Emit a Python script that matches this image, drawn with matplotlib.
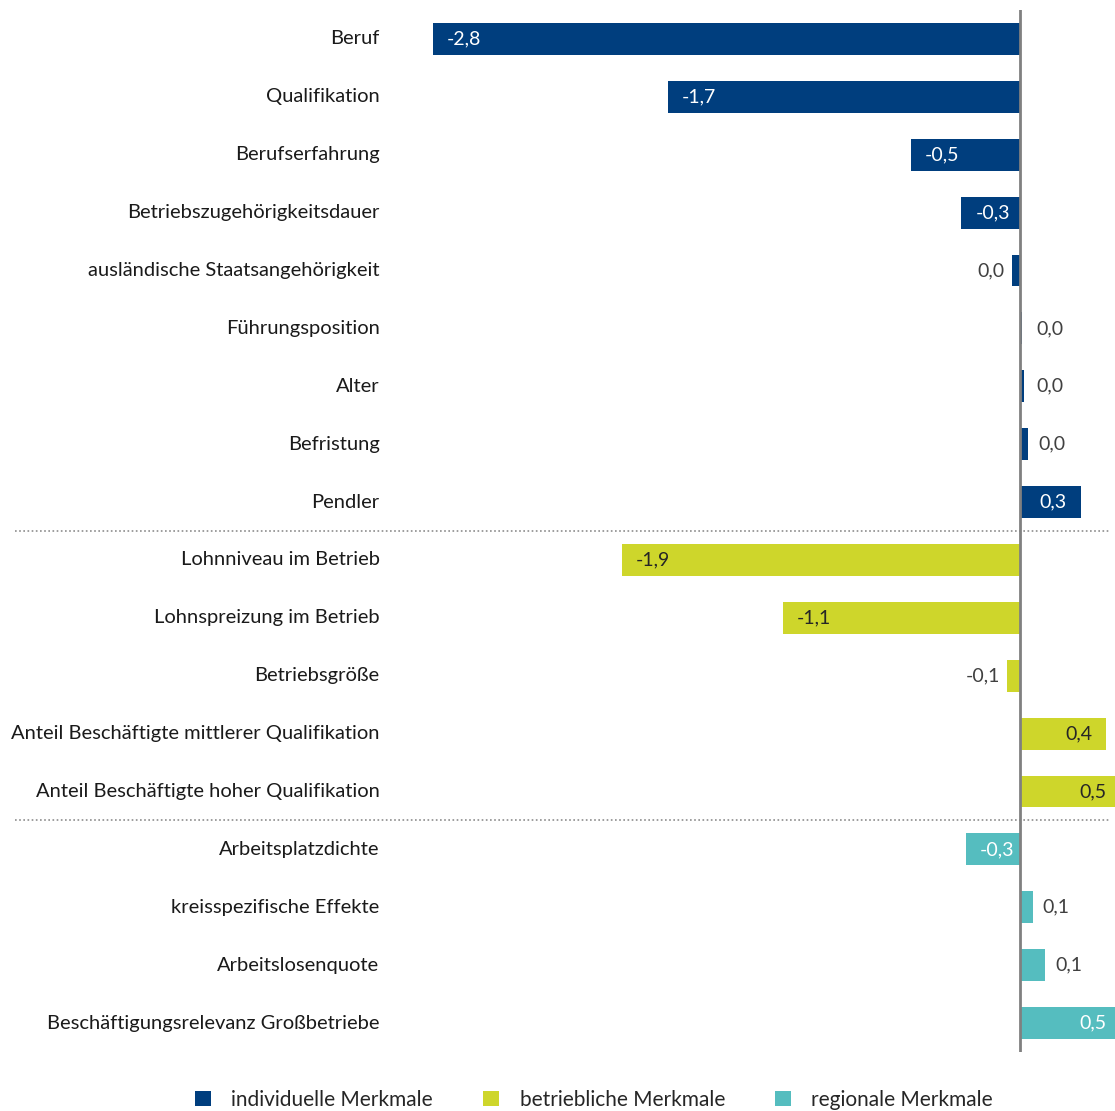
import matplotlib
matplotlib.use("Agg")
import matplotlib.pyplot as plt
from matplotlib.patches import Patch
from matplotlib.transforms import blended_transform_factory

plt.rcParams['font.family'] = ['Lato', 'DejaVu Sans']

# data
labels = ["Beruf", "Qualifikation", "Berufserfahrung", "Betriebszugehörigkeitsdauer",
          "ausländische Staatsangehörigkeit", "Führungsposition", "Alter", "Befristung",
          "Pendler",
          "Lohnniveau im Betrieb", "Lohnspreizung im Betrieb", "Betriebsgröße",
          "Anteil Beschäftigte mittlerer Qualifikation", "Anteil Beschäftigte hoher Qualifikation",
          "Arbeitsplatzdichte", "kreisspezifische Effekte", "Arbeitslosenquote",
          "Beschäftigungsrelevanz Großbetriebe"]
values = [-2.80, -1.68, -0.52, -0.28, -0.04, 0.01, 0.02, 0.04, 0.29,
          -1.90, -1.13, -0.06, 0.41, 0.48,
          -0.26, 0.06, 0.12, 0.48]
groups = [0] * 9 + [1] * 5 + [2] * 4
group_names = ["individuelle Merkmale", "betriebliche Merkmale", "regionale Merkmale"]

colors = ["#003E7E", "#CED62B", "#55BDBF"]
inside_text = ["white", "#262626", "white"]

W, H = 1115, 1111
fig = plt.figure(figsize=(W / 100, H / 100), dpi=100)
# zero line at x=1020px, ~209.6 px per unit
x0_px, ppu = 1020, 209.6
ax_left, ax_right = 392, 1115
ax = fig.add_axes([ax_left / W, (H - 1052) / H, (ax_right - ax_left) / W, (1052 - 10) / H])
ax.set_xlim((ax_left - x0_px) / ppu, (ax_right - x0_px) / ppu)

n = len(values)
ypos = list(range(n))
ax.barh(ypos, values, height=0.55, color=[colors[g] for g in groups], zorder=2)
ax.set_ylim(n - 0.5, -0.5)
ax.axvline(0, color="#808080", lw=2, zorder=3)

ax.set_yticks(ypos)
ax.set_yticklabels(labels, fontsize=14.5, color="#1a1a1a", va="center")
ax.tick_params(axis="y", length=0, pad=9)
ax.set_xticks([])
for s in ax.spines.values():
    s.set_visible(False)

pad = 14 / ppu
for y, v, g in zip(ypos, values, groups):
    txt = f"{abs(v):.1f}".replace(".", ",")
    if round(v, 1) < 0:
        txt = "-" + txt
    if abs(v) >= 0.2:
        if v < 0:
            ax.text(v + pad, y, txt, ha="left", va="center", fontsize=14, color=inside_text[g], zorder=4)
        else:
            ax.text(v - pad, y, txt, ha="right", va="center", fontsize=14, color=inside_text[g], zorder=4)
    else:
        if v < 0:
            ax.text(v - 7 / ppu, y, txt, ha="right", va="center", fontsize=14, color="#404040")
        else:
            ax.text(max(v, 0.03) + 10 / ppu, y, txt, ha="left", va="center", fontsize=14, color="#404040")

# dotted separators between groups
tr = blended_transform_factory(fig.transFigure, ax.transData)
for ysep in [8.5, 13.5]:
    ax.plot([15 / W, 1110 / W], [ysep, ysep], transform=tr, color="#8c8c8c",
            lw=1.2, ls=(0, (1, 1.5)), clip_on=False, zorder=1)

handles = [Patch(facecolor=c, edgecolor="none") for c in colors]
fig.legend(handles, group_names, loc="center", bbox_to_anchor=(594 / W, 11 / H), ncol=3,
           frameon=False, fontsize=15, handlelength=0.75, handleheight=0.75,
           handletextpad=1.0, columnspacing=2.4, labelcolor="#262626")

fig.savefig("out.png", dpi=100)
